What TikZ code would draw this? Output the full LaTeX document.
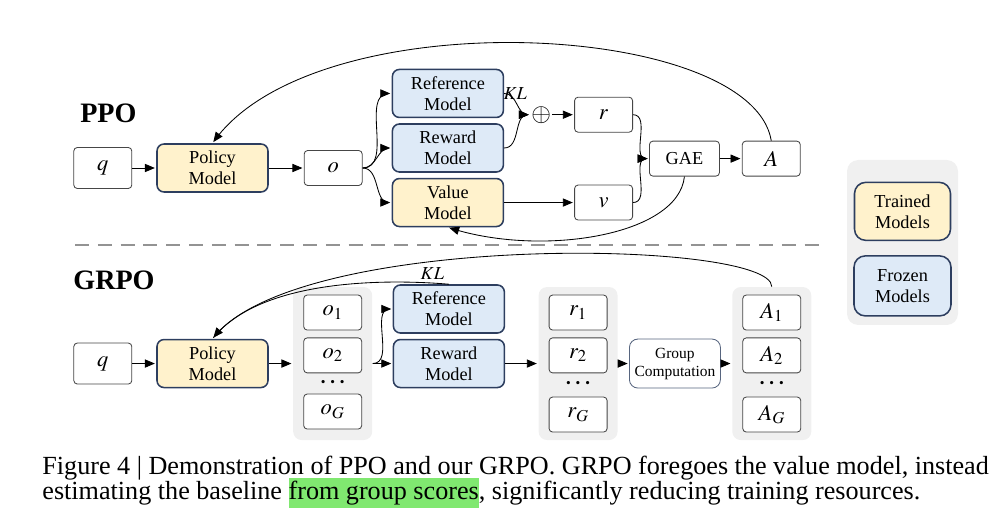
\documentclass[tikz,border=0pt]{standalone}
\usepackage{mathptmx}
\usepackage{fontspec}
\setmainfont{Liberation Serif}
\usetikzlibrary{shapes,arrows,positioning,calc}

\definecolor{trainfill}{RGB}{255,242,204}
\definecolor{frozenfill}{RGB}{222,234,247}
\definecolor{navy}{RGB}{45,62,95}
\definecolor{boxgray}{RGB}{70,70,70}
\definecolor{groupgray}{RGB}{240,240,240}
\definecolor{hlgreen}{RGB}{128,232,112}

\newcommand{\vdotsrow}{{\fontsize{9.5}{9.5}\selectfont\textbullet\hspace{3.5pt}\textbullet\hspace{3.5pt}\textbullet}}

\begin{document}
\begin{tikzpicture}[->,>=triangle 45,shorten >=1pt,
            line width=0.6pt,
            model node/.style={rectangle,rounded corners=5pt,draw=navy,line width=1.1pt,
             minimum width=2.775cm, minimum height=1.2cm, inner sep=0pt,
             align=center, font=\fontsize{13}{15}\selectfont},
            small node/.style={rectangle,rounded corners=2.5pt,draw=boxgray,fill=white,
             minimum width=1.45cm, minimum height=0.875cm, inner sep=0pt,
             font=\fontsize{16}{18}\selectfont},
            group node/.style={rectangle,rounded corners=6pt,fill=groupgray,
             minimum width=1.975cm, minimum height=3.825cm},
            title/.style={font=\fontsize{20}{24}\selectfont\bfseries},
            caption/.style={inner sep=0pt,font=\fontsize{18.6}{21}\selectfont}]

            \useasboundingbox (0,0) rectangle (25,13.275);

            % PPO
            \node[title] (tppo) at (2.71,10.45) {PPO};
            \node[model node,fill=trainfill] (ppolicy) at (5.3125,9.075) {Policy\\Model};
            \node[small node,minimum height=1.025cm] (pq) [left=0.6cm of ppolicy] {$q$};
            \node[small node] (po) [right=0.875cm of ppolicy] {$o$};
            \node[model node,fill=frozenfill] (prew) [right=0.725cm of po,yshift=0.5cm] {Reward\\Model};
            \node[model node,fill=frozenfill] (pref) [above=0.125cm of prew] {Reference\\Model};
            \node[model node,fill=trainfill] (pval) [below=0.125cm of prew] {Value\\Model};
            \node[small node] (pv) [right=1.75cm of pval] {$v$};
            \node[small node] (pr) [above=1.3cm of pv] {$r$};
            \node[inner sep=0.5pt,font=\fontsize{18}{20}\selectfont] (psum) [left=0.55cm of pr] {$\oplus$};
            \node[small node,minimum width=1.75cm,font=\fontsize{13}{15}\selectfont] (pgae)
              [right=0.4cm of $(pr.east)!0.5!(pv.east)$] {GAE};
            \node[small node] (pA) [right=0.55cm of pgae] {$A$};

            \path[color=black,style={->}]
              (pq) edge (ppolicy)
              (ppolicy) edge (po)
              (po.east) edge[out=0,in=180] (pref.west)
              (po.east) edge[out=0,in=180] (prew.west)
              (po.east) edge[out=0,in=180] (pval.west)
              (pref.east) edge[out=0,in=180] node[pos=0.4,above,inner sep=1pt,font=\fontsize{13}{15}\selectfont] {$KL$} (psum.west)
              (prew.east) edge[out=0,in=180] (psum.west)
              (psum) edge (pr)
              (pval) edge (pv)
              (pr.east) edge[out=0,in=180] (pgae.west)
              (pv.east) edge[out=0,in=180] (pgae.west)
              (pgae) edge (pA);

            \draw (pA.north) .. controls +(-0.5,3.0) and +(2.6,3.6) .. (ppolicy.north);
            \draw (pgae.south) .. controls +(-0.15,-1.475) and +(2.35,-0.75) .. (pval.south);

            % separator
            \draw[-,gray!85,line width=1.8pt,dash pattern=on 0.35cm off 0.22cm] (1.875,7.15) -- (20.55,7.15);

            % GRPO
            \node[title] (tgrpo) at (2.85,6.275) {GRPO};
            \node[model node,fill=trainfill] (gpolicy) [below=3.65cm of ppolicy] {Policy\\Model};
            \node[small node,minimum height=1.025cm] (gq) [left=0.6cm of gpolicy] {$q$};

            \node[group node] (gogrp) [right=0.6cm of gpolicy] {};
            \node[small node] (go1) [below=0.2cm of gogrp.north] {$o_1$};
            \node[small node] (go2) [below=0.175cm of go1] {$o_2$};
            \node[small node] (goG) [above=0.275cm of gogrp.south] {$o_G$};
            \node (godots) at ($(go2.south)!0.5!(goG.north)$) {\vdotsrow};

            \node[model node,fill=frozenfill] (grew) [right=0.5cm of gogrp] {Reward\\Model};
            \node[model node,fill=frozenfill] (gref) [above=0.125cm of grew] {Reference\\Model};

            \node[group node] (grgrp) [right=0.825cm of grew] {};
            \node[small node] (gr1) [below=0.2cm of grgrp.north] {$r_1$};
            \node[small node] (gr2) [below=0.175cm of gr1] {$r_2$};
            \node[small node] (grG) [above=0.2cm of grgrp.south] {$r_G$};
            \node (grdots) at ($(gr2.south)!0.5!(grG.north)$) {\vdotsrow};

            \node[rectangle,rounded corners=6pt,draw=navy!80,fill=white,minimum width=2.275cm,
              minimum height=1.225cm,inner sep=0pt,align=center,font=\fontsize{11}{12.8}\selectfont]
              (ggc) [right=0.275cm of grgrp] {Group\\Computation};

            \node[group node] (gagrp) [right=0.275cm of ggc] {};
            \node[small node] (gA1) [below=0.2cm of gagrp.north] {$A_1$};
            \node[small node] (gA2) [below=0.175cm of gA1] {$A_2$};
            \node[small node] (gAG) [above=0.2cm of gagrp.south] {$A_G$};
            \node (gadots) at ($(gA2.south)!0.5!(gAG.north)$) {\vdotsrow};

            \path[color=black,style={->}]
              (gq) edge (gpolicy)
              (gpolicy) edge (gogrp)
              (gogrp.east) edge[out=0,in=180] (gref.west)
              (gogrp.east) edge (grew.west)
              (grew) edge (grgrp)
              (grgrp) edge (ggc)
              (ggc) edge (gagrp);

            \draw (gagrp.north) .. controls +(0,1.175) and +(2.2,2.7) .. (gpolicy.north);
            \draw[-] (gref.north) .. controls +(-1.1625,0.1) and +(1.3,1.6) .. (gpolicy.north)
              node[pos=0.1,above,inner sep=2pt,font=\fontsize{13}{15}\selectfont] {$KL$};

            % legend
            \node[rectangle,rounded corners=8pt,fill=groupgray,minimum width=2.775cm,
              minimum height=4.125cm] (lgrp) at (22.5625,7.2125) {};
            \node[model node,fill=trainfill,rounded corners=8pt,minimum width=2.4cm,minimum height=1.45cm]
              (ltrain) [below=0.55cm of lgrp.north] {Trained\\Models};
            \node[model node,fill=frozenfill,rounded corners=8pt,minimum width=2.425cm,minimum height=1.5cm]
              (lfrozen) [below=0.35cm of ltrain] {Frozen\\Models};

            % caption
            \node[caption,anchor=base west] (cap1) at (1.05,1.425)
              {Figure 4 | Demonstration of PPO and our GRPO. GRPO foregoes the value model, instead};
            \node[caption,anchor=base west] (cap2) at (1.05,0.8)
              {estimating the baseline {\setlength{\fboxsep}{0pt}\colorbox{hlgreen}{\strut from group scores}}, significantly reducing training resources.};
\end{tikzpicture}
\end{document}
